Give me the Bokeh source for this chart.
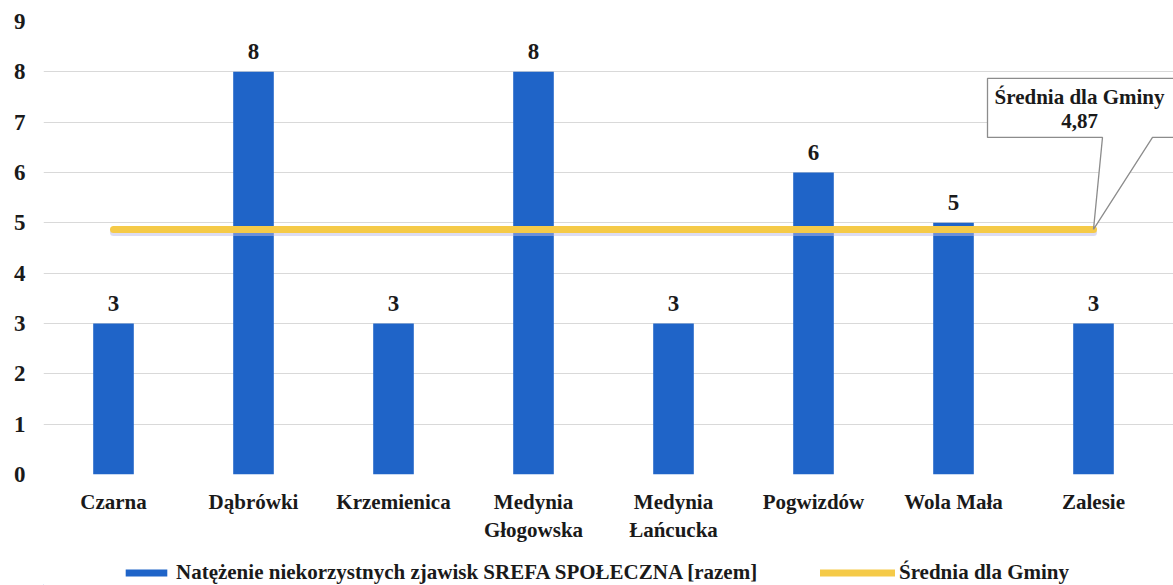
from bokeh.plotting import figure
from bokeh.layouts import column
from bokeh.models import ColumnDataSource, Range1d, FixedTicker, Legend, LegendItem
from bokeh.core.properties import value
from bokeh.embed import file_html
from bokeh.resources import INLINE

# ---- data ----
categories = ["Czarna", "Dąbrówki", "Krzemienica", "Medynia\nGłogowska",
              "Medynia\nŁańcucka", "Pogwizdów", "Wola Mała", "Zalesie"]
values = [3, 8, 3, 8, 3, 6, 5, 3]
average = 4.87
average_text = "4,87"
y_ticks = [0, 1, 2, 3, 4, 5, 6, 7, 8, 9]
series_name = "Natężenie niekorzystnych zjawisk SREFA SPOŁECZNA [razem]"
average_name = "Średnia dla Gminy"

# ---- layout / style ----
FONT = "Liberation Serif"
W, H_TOTAL = 1173, 585
H_LEG = 40
H = H_TOTAL - H_LEG
LEFT, RIGHT, TOP = 43, 0, 21
BOTTOM = H - 474
frame_w = W - LEFT - RIGHT
frame_h = H - TOP - BOTTOM
cat_px = 140.0
x_start = -0.5
x_end = x_start + frame_w / cat_px
y_max = y_ticks[-1]
px_y = frame_h / y_max
BLUE = "#1f64c8"
YELLOW = "#f5ca48"
TXT = "#1a1a1a"

idx = list(range(len(categories)))

p = figure(width=W, height=H, output_backend="svg", toolbar_location=None,
           x_range=Range1d(x_start, x_end), y_range=Range1d(0, y_max),
           min_border_left=LEFT, min_border_right=RIGHT,
           min_border_top=TOP, min_border_bottom=BOTTOM)
p.outline_line_color = None
p.background_fill_color = "white"
p.border_fill_color = "white"

p.xgrid.grid_line_color = None
p.ygrid.grid_line_color = "#d9d9d9"
p.ygrid.grid_line_width = 1
p.ygrid.ticker = FixedTicker(ticks=y_ticks)

# axes
p.yaxis.ticker = FixedTicker(ticks=y_ticks)
p.xaxis.ticker = FixedTicker(ticks=idx)
p.xaxis.major_label_overrides = {i: c for i, c in zip(idx, categories)}
for ax in (p.xaxis, p.yaxis):
    ax.axis_line_color = None
    ax.major_tick_line_color = None
    ax.minor_tick_line_color = None
    ax.major_tick_out = 0
    ax.major_tick_in = 0
    ax.minor_tick_out = 0
    ax.minor_tick_in = 0
    ax.major_label_text_font = FONT
    ax.major_label_text_font_style = "bold"
    ax.major_label_text_color = TXT
p.yaxis.major_label_text_font_size = "23px"
p.yaxis.major_label_standoff = 18
p.xaxis.major_label_text_font_size = "21px"
p.xaxis.major_label_standoff = 15
p.xaxis.major_label_text_line_height = 1.2

src = ColumnDataSource(dict(x=idx, top=values, lbl=[str(v) for v in values]))
p.vbar(x="x", top="top", width=0.29, source=src, fill_color=BLUE, line_color=None)
p.text(x="x", y="top", text="lbl", source=src, text_font=value(FONT),
       text_font_style="bold", text_font_size="23px", text_color=TXT,
       text_align="center", text_baseline="alphabetic", y_offset=-20)

# average line with soft shadow
ax_x = [idx[0], idx[-1]]
p.line(ax_x, [average - 3 / px_y] * 2, line_width=7, line_color="#b9b9e6",
       line_alpha=0.5, line_cap="round")
p.line(ax_x, [average] * 2, line_width=7, line_color=YELLOW, line_cap="round")

# callout (offsets in pixels from the anchor point)
ax0, ay0 = idx[-1], average
def dx(px):
    return ax0 + px / cat_px
def dy(px):
    return ay0 + px / px_y
callout_px = [(-106, 92), (-106, 151), (110, 151), (110, 92), (59, 92), (0, 0), (9, 92)]
p.patch([dx(a) for a, b in callout_px], [dy(b) for a, b in callout_px],
        fill_color="white", line_color="#8c8c8c", line_width=1.3)
p.text(x=[dx(-14), dx(-14)], y=[dy(132), dy(108)], text=[average_name, average_text],
       text_font=value(FONT), text_font_style="bold", text_font_size="21px",
       text_color=TXT, text_align="center", text_baseline="middle")

# ---- legend strip (separate figure below, frame aligned with the chart) ----
p2 = figure(width=W, height=H_LEG, output_backend="svg", toolbar_location=None,
            x_range=Range1d(0, W), y_range=Range1d(0, H_LEG),
            x_axis_location=None, y_axis_location=None,
            min_border=0)
p2.outline_line_color = None
p2.grid.visible = False
# off-screen proxies that carry the legend swatch styles
leg_bar = p2.vbar(x=[-50], top=[1], width=1, fill_color=BLUE, line_color=None)
leg_line = p2.line(x=[-60, -50], y=[1, 1], line_width=7, line_color=YELLOW, line_cap="round")

def make_legend(renderer, label, x, gw, gh):
    lg = Legend(items=[LegendItem(label=label, renderers=[renderer])],
                location=(x, 0), orientation="horizontal",
                glyph_width=gw, glyph_height=gh, label_standoff=4,
                padding=0, margin=0, spacing=0, label_height=21,
                background_fill_alpha=0, border_line_color=None,
                label_text_font=FONT, label_text_font_style="bold",
                label_text_font_size="21px", label_text_color=TXT)
    p2.add_layout(lg, "center")

make_legend(leg_bar, series_name, 77, 52, 9)
make_legend(leg_line, average_name, 777, 75, 9)

layout = column(p, p2, spacing=0)
open("out.html", "w").write(file_html(layout, INLINE))
